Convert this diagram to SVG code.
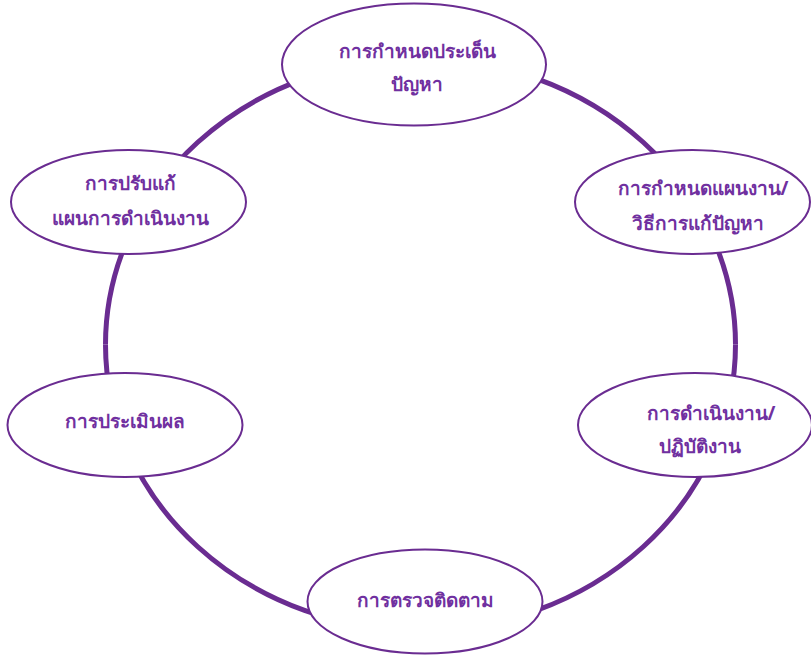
<svg xmlns="http://www.w3.org/2000/svg" width="811" height="656" viewBox="0 0 811 656">
<defs>
<style>
.ring{fill:none;stroke:#6a2c91;stroke-width:5}
.node{fill:#ffffff;stroke:#6a2c91;stroke-width:2}
.lbl{font-family:"Noto Sans","DejaVu Sans",sans-serif;font-size:19px;font-weight:bold;fill:#7030a0;text-anchor:middle}
</style>
</defs>
<rect width="811" height="656" fill="#ffffff"/>
<g id="connectors">
<path class="ring" d="M 420.5 58.5 A 315 286 0 0 0 105.5 344.5"/>
<path class="ring" d="M 105.5 344.5 A 315 286 0 0 0 420.5 630.5"/>
<path class="ring" d="M 420.5 630.5 A 315 286 0 0 0 735.5 344.5"/>
<path class="ring" d="M 735.5 344.5 A 315 286 0 0 0 420.5 58.5"/>
</g>
<g id="node-1">
<ellipse class="node" cx="414" cy="64.5" rx="132" ry="61"/>
<text class="lbl" x="417" y="58">การกำหนดประเด็น</text>
<text class="lbl" x="417" y="91">ปัญหา</text>
</g>
<g id="node-2">
<ellipse class="node" cx="692.5" cy="202" rx="117.5" ry="52"/>
<text class="lbl" x="703" y="195">การกำหนดแผนงาน/</text>
<text class="lbl" x="698" y="230">วิธีการแก้ปัญหา</text>
</g>
<g id="node-3">
<ellipse class="node" cx="695" cy="425" rx="117" ry="52"/>
<text class="lbl" x="711" y="420">การดำเนินงาน/</text>
<text class="lbl" x="700" y="453">ปฏิบัติงาน</text>
</g>
<g id="node-4">
<ellipse class="node" cx="425" cy="601.5" rx="117.5" ry="52"/>
<text class="lbl" x="425.5" y="607">การตรวจติดตาม</text>
</g>
<g id="node-5">
<ellipse class="node" cx="125" cy="425" rx="117.5" ry="52"/>
<text class="lbl" x="125" y="428">การประเมินผล</text>
</g>
<g id="node-6">
<ellipse class="node" cx="128.5" cy="202" rx="117.5" ry="52"/>
<text class="lbl" x="130" y="190">การปรับแก้</text>
<text class="lbl" x="130" y="225">แผนการดำเนินงาน</text>
</g>
</svg>
